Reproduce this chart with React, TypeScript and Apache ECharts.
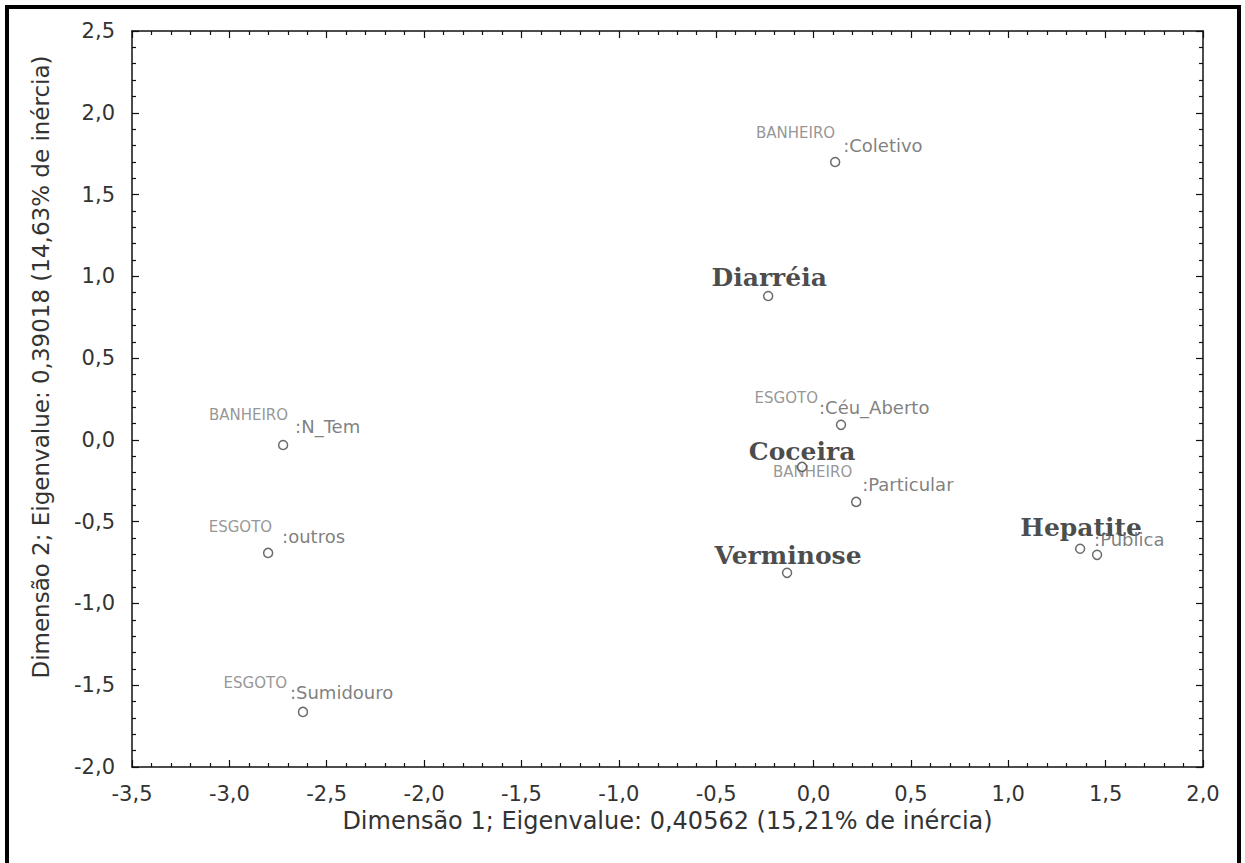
import React, { useEffect, useRef } from "react";
import * as echarts from "echarts";

// ---- data ----
const diseaseNames = ["Diarréia", "Coceira", "Hepatite", "Verminose"];
const diseaseX = [-0.233, -0.059, 1.369, -0.136];
const diseaseY = [0.88, -0.165, -0.666, -0.813];

const categoryVariables = ["BANHEIRO", "ESGOTO", "BANHEIRO", "BANHEIRO", "ESGOTO", "ESGOTO", ""];
const categoryLevels = ["Coletivo", "Céu_Aberto", "Particular", "N_Tem", "outros", "Sumidouro", "Pública"];
const categoryX = [0.111, 0.141, 0.219, -2.724, -2.801, -2.622, 1.456];
const categoryY = [1.699, 0.092, -0.379, -0.031, -0.691, -1.663, -0.703];

const xAxisRange = [-3.5, 2.0];
const yAxisRange = [-2.0, 2.5];
const tickStep = 0.5;

const xTitle = "Dimensão 1; Eigenvalue: 0,40562 (15,21% de inércia)";
const yTitle = "Dimensão 2; Eigenvalue: 0,39018 (14,63% de inércia)";

// ---- label layout (pixel offsets of labels from their points) ----
const diseaseLabelOffset = [[1, -18], [0, -15], [1, -21], [1, -17]];
const levelLabelOffset = [[8, -17], [-22, -17], [6, -17], [12, -18], [14, -16], [-13, -19], [-3, -15]];
const variableLabelOffset = [[0, -29], [-23, -27], [-4, -30], [5, -30], [4, -26], [-16, -29], [0, 0]];

const fmt = (v: number) => v.toFixed(1).replace(".", ",");

export default function App() {
  const ref = useRef<HTMLDivElement>(null);

  useEffect(() => {
    document.body.style.margin = "0";
    if (!ref.current) return;
    const chart = echarts.init(ref.current, undefined, { renderer: "svg" });

    const axisCommon = {
      type: "value" as const,
      axisLine: { show: true, onZero: false, lineStyle: { color: "#111", width: 1.5 } },
      axisTick: { show: true, inside: true, length: 7, lineStyle: { color: "#111", width: 1.2 } },
      minorTick: { show: true, splitNumber: 5, length: 4, lineStyle: { color: "#111", width: 1.2 } },
      splitLine: { show: false },
      interval: tickStep,
    };

    const tickLabel = {
      color: "#333",
      fontFamily: "DejaVu Sans",
      fontSize: 21,
      formatter: (v: number) => fmt(v),
    };

    const pointStyle = { color: "#fff", borderColor: "#444", borderWidth: 1.5 };

    chart.setOption({
      animation: false,
      backgroundColor: "#fff",
      grid: { left: 132, right: 42, top: 31, bottom: 96 },
      xAxis: [
        {
          ...axisCommon,
          position: "bottom",
          min: xAxisRange[0],
          max: xAxisRange[1],
          axisLabel: { ...tickLabel, margin: 16 },
          name: xTitle,
          nameLocation: "middle",
          nameGap: 40,
          nameTextStyle: { color: "#333", fontFamily: "DejaVu Sans", fontSize: 24 },
        },
        {
          ...axisCommon,
          position: "top",
          min: xAxisRange[0],
          max: xAxisRange[1],
          axisLabel: { show: false },
        },
      ],
      yAxis: [
        {
          ...axisCommon,
          position: "left",
          min: yAxisRange[0],
          max: yAxisRange[1],
          axisLabel: { ...tickLabel, margin: 17 },
          name: yTitle,
          nameLocation: "middle",
          nameGap: 80,
          nameTextStyle: {
            color: "#333",
            fontFamily: "DejaVu Sans",
            fontSize: 23,
            padding: [0, 0, 0, 64],
          },
        },
        {
          ...axisCommon,
          position: "right",
          min: yAxisRange[0],
          max: yAxisRange[1],
          axisLabel: { show: false },
        },
      ],
      series: [
        {
          name: "Doenças",
          type: "scatter",
          xAxisIndex: 0,
          yAxisIndex: 0,
          symbol: "circle",
          symbolSize: 9,
          itemStyle: pointStyle,
          silent: true,
          z: 3,
          label: {
            show: true,
            position: "inside",
            align: "center",
            verticalAlign: "middle",
            formatter: "{b}",
            fontFamily: "DejaVu Serif",
            fontWeight: "bold",
            fontSize: 25,
            color: "#1c1c1c",
          },
          data: diseaseNames.map((n, i) => ({
            name: n,
            value: [diseaseX[i], diseaseY[i]],
            label: { offset: diseaseLabelOffset[i] },
          })),
        },
        {
          name: "Categorias",
          type: "scatter",
          xAxisIndex: 0,
          yAxisIndex: 0,
          symbol: "circle",
          symbolSize: 9,
          itemStyle: pointStyle,
          silent: true,
          z: 4,
          label: {
            show: true,
            position: "inside",
            align: "left",
            verticalAlign: "middle",
            formatter: (p: any) => ":" + p.name,
            fontFamily: "DejaVu Sans",
            fontSize: 18,
            color: "#5e5e5e",
          },
          data: categoryLevels.map((n, i) => ({
            name: n,
            value: [categoryX[i], categoryY[i]],
            label: { offset: levelLabelOffset[i] },
          })),
        },
        {
          name: "Variáveis",
          type: "scatter",
          xAxisIndex: 0,
          yAxisIndex: 0,
          symbol: "circle",
          symbolSize: 0,
          silent: true,
          z: 2,
          label: {
            show: true,
            position: "inside",
            align: "right",
            verticalAlign: "middle",
            formatter: "{b}",
            fontFamily: "DejaVu Sans",
            fontSize: 15,
            color: "#7a7a7a",
          },
          data: categoryVariables
            .map((n, i) => ({
              name: n,
              value: [categoryX[i], categoryY[i]],
              label: { offset: variableLabelOffset[i] },
            }))
            .filter((d) => d.name !== ""),
        },
      ],
      graphic: [
        {
          type: "rect",
          silent: true,
          z: 100,
          shape: { x: 7, y: 7, width: 1232, height: 890 },
          style: { fill: "none", stroke: "#000", lineWidth: 4 },
        },
      ],
    });

    return () => chart.dispose();
  }, []);

  return (
    <div style={{ width: 1245, height: 863, background: "#fff" }}>
      <div ref={ref} style={{ width: 1245, height: 863 }} />
    </div>
  );
}
